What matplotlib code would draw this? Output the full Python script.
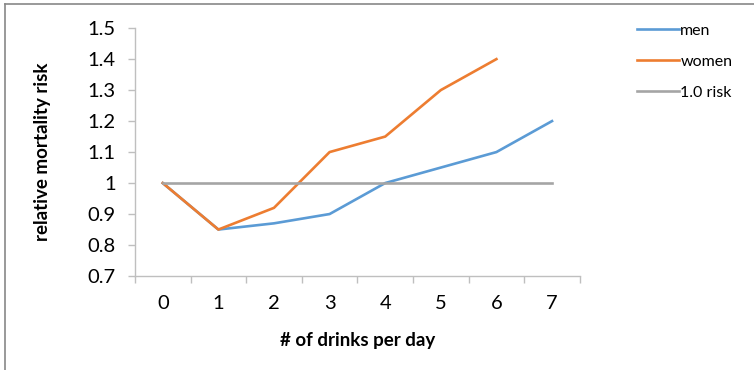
import matplotlib.pyplot as plt
from matplotlib.lines import Line2D

plt.rcParams['font.family'] = ['Lato', 'DejaVu Sans']

drinks = [0, 1, 2, 3, 4, 5, 6, 7]
men = [1.0, 0.85, 0.87, 0.90, 1.0, 1.05, 1.10, 1.20]
women = [1.0, 0.85, 0.92, 1.10, 1.15, 1.30, 1.40]
baseline = [1.0] * len(drinks)

fig = plt.figure(figsize=(7.54, 3.70), dpi=100)
ax = fig.add_axes([0.179, 0.254, 0.59, 0.67])

ax.plot(drinks, men, color='#5b9bd5', lw=1.9, label='men')
ax.plot(drinks[:len(women)], women, color='#ed7d31', lw=1.9, label='women')
ax.plot(drinks, baseline, color='#a5a5a5', lw=1.9, label='1.0 risk')

ax.set_xlim(-0.5, 7.5)
ax.set_ylim(0.7, 1.5)
ax.set_yticks([0.7, 0.8, 0.9, 1.0, 1.1, 1.2, 1.3, 1.4, 1.5])
ax.set_yticklabels(['0.7', '0.8', '0.9', '1', '1.1', '1.2', '1.3', '1.4', '1.5'])
ax.set_xticks(drinks)
ax.set_xticks([x - 0.5 for x in drinks] + [7.5], minor=True)
ax.tick_params(axis='x', which='major', length=0, pad=14, labelsize=14.5)
ax.tick_params(axis='x', which='minor', length=5, color='#bfbfbf', width=1)
ax.tick_params(axis='y', length=5, color='#bfbfbf', width=1, labelsize=14.5, pad=9)

for s in ['top', 'right']:
    ax.spines[s].set_visible(False)
for s in ['left', 'bottom']:
    ax.spines[s].set_color('#bfbfbf')
    ax.spines[s].set_linewidth(1)

ax.set_xlabel('# of drinks per day', fontsize=13.5, fontweight='bold', labelpad=14)
ax.set_ylabel('relative mortality risk', fontsize=13.5, fontweight='bold', labelpad=26)

ax.legend(loc='upper left', bbox_to_anchor=(0.826, 0.975), bbox_transform=fig.transFigure,
          frameon=False, fontsize=11.5, handlelength=2.6, handletextpad=0.1,
          labelspacing=1.05)

# outer frame (top and left edges)
fig.add_artist(Line2D([0.006, 0.006], [0, 0.989], color='#888888', lw=1.2))
fig.add_artist(Line2D([0.006, 1.0], [0.989, 0.989], color='#888888', lw=1.2))

fig.savefig('out.png', dpi=100)
